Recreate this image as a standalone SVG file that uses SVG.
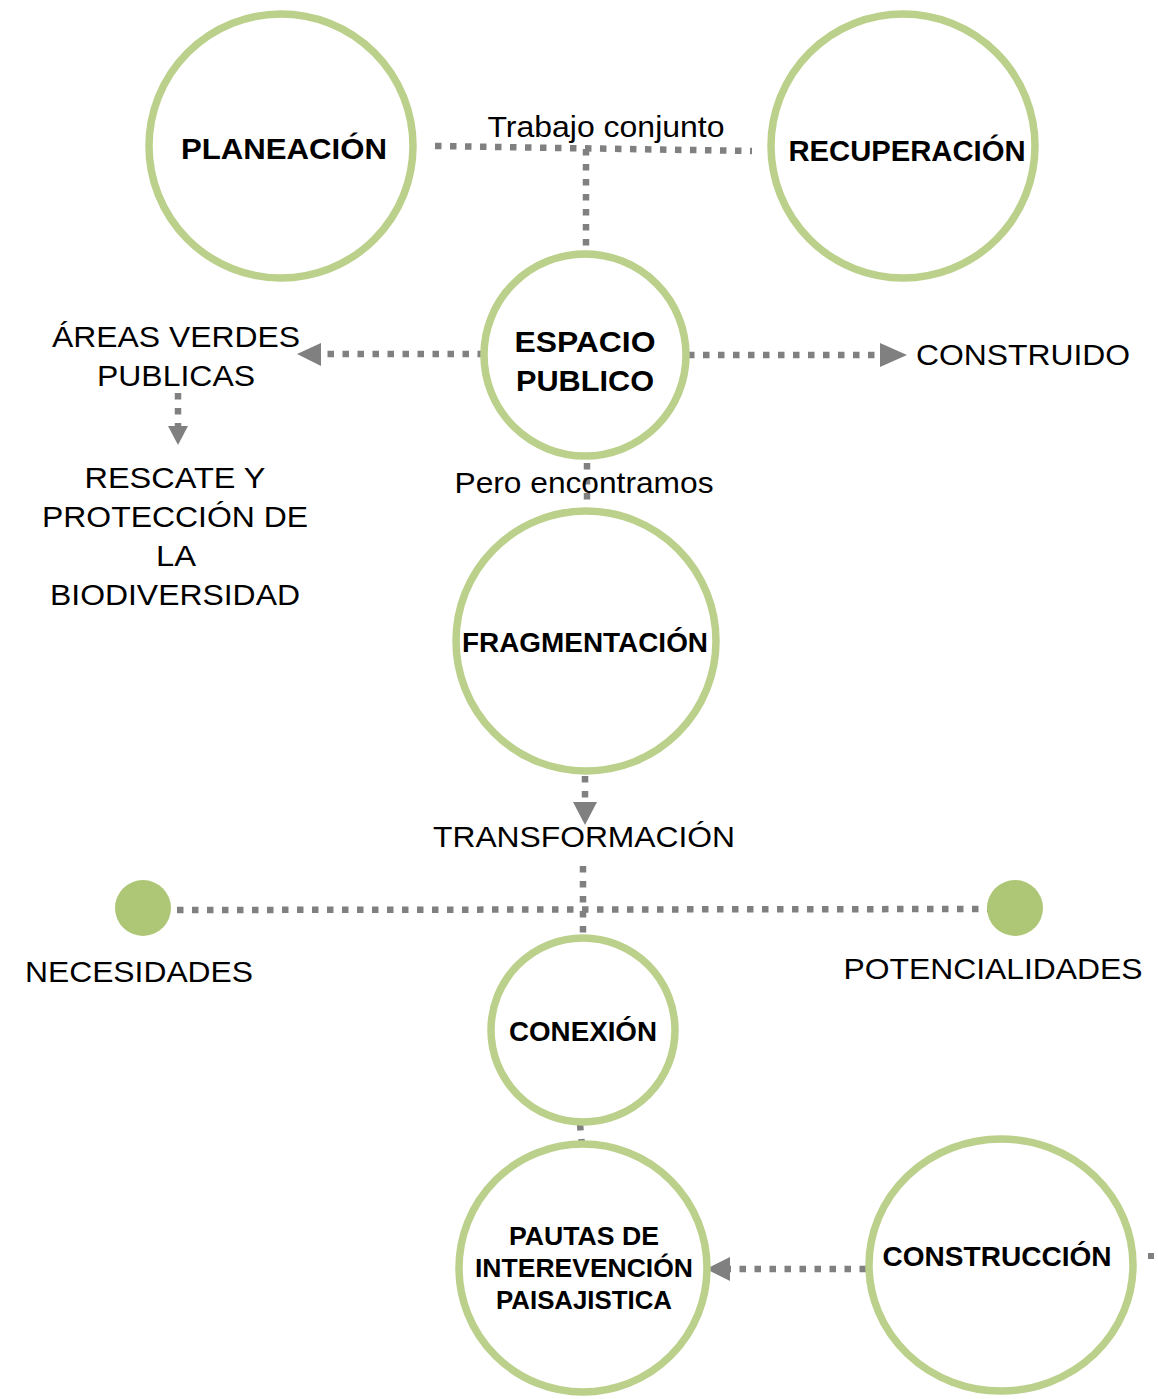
<svg xmlns="http://www.w3.org/2000/svg" width="1158" height="1399" viewBox="0 0 1158 1399">
<style>
.ring{fill:#fff;stroke:#BBD08B;stroke-width:7.5}
.dot{fill:#AEC776}
.dash{fill:none;stroke:#808080;stroke-width:6.5;stroke-dasharray:6.5 8.5}
.head{fill:#808080}
.b{font-family:"Liberation Sans",Arial,sans-serif;font-weight:bold;fill:#000;text-anchor:middle}
.r{font-family:"Liberation Sans",Arial,sans-serif;fill:#000;text-anchor:middle}
</style>
<rect width="1158" height="1399" fill="#fff"/>
<g id="connectors">
<path class="dash" d="M435 146 L752 151"/>
<path class="dash" d="M586 149 L586 254"/>
<path class="dash" d="M484 354 L321 354"/>
<polygon class="head" points="297,354 321,343 321,366"/>
<path class="dash" d="M688 355 L880 355"/>
<polygon class="head" points="907,355 880,343 880,367"/>
<path class="dash" d="M178 393 L178 426"/>
<polygon class="head" points="178,445 168,426 188,426"/>
<path class="dash" d="M587 463 L587 503"/>
<path class="dash" d="M585 776 L585 802"/>
<polygon class="head" points="585,825 573,802 597,802"/>
<path class="dash" d="M583 866 L583 935"/>
<path class="dash" d="M177 910 L988 909"/>
<path class="dash" d="M580 1124 L582 1146"/>
<path class="dash" d="M866 1269 L730 1269"/>
<polygon class="head" points="706,1269 730,1257 730,1281"/>
<rect x="1148" y="1253" width="6" height="6" fill="#808080"/>
</g>
<g id="planeacion"><circle class="ring" cx="281" cy="146" r="132"/><text class="b" x="284" y="159" font-size="30" textLength="206" lengthAdjust="spacingAndGlyphs">PLANEACIÓN</text></g>
<g id="recuperacion"><circle class="ring" cx="903" cy="146" r="132"/><text class="b" x="907" y="161" font-size="29" textLength="237" lengthAdjust="spacingAndGlyphs">RECUPERACIÓN</text></g>
<g id="trabajo"><text class="r" x="606" y="137" font-size="30" textLength="237" lengthAdjust="spacingAndGlyphs">Trabajo conjunto</text></g>
<g id="espacio"><circle class="ring" cx="585" cy="355" r="101"/><text class="b" x="585" y="352" font-size="30" textLength="141" lengthAdjust="spacingAndGlyphs">ESPACIO</text><text class="b" x="585" y="391" font-size="30" textLength="138" lengthAdjust="spacingAndGlyphs">PUBLICO</text></g>
<g id="areas"><text class="r" x="176" y="347" font-size="30" textLength="248" lengthAdjust="spacingAndGlyphs">ÁREAS VERDES</text><text class="r" x="176" y="386" font-size="30" textLength="158" lengthAdjust="spacingAndGlyphs">PUBLICAS</text></g>
<g id="construido"><text class="r" x="1023" y="365" font-size="30" textLength="214" lengthAdjust="spacingAndGlyphs">CONSTRUIDO</text></g>
<g id="rescate"><text class="r" x="175" y="488" font-size="30" textLength="181" lengthAdjust="spacingAndGlyphs">RESCATE Y</text><text class="r" x="175" y="527" font-size="30" textLength="266" lengthAdjust="spacingAndGlyphs">PROTECCIÓN DE</text><text class="r" x="176" y="566" font-size="30" textLength="40" lengthAdjust="spacingAndGlyphs">LA</text><text class="r" x="175" y="605" font-size="30" textLength="250" lengthAdjust="spacingAndGlyphs">BIODIVERSIDAD</text></g>
<g id="pero"><text class="r" x="584" y="493" font-size="30" textLength="259" lengthAdjust="spacingAndGlyphs">Pero encontramos</text></g>
<g id="fragmentacion"><circle class="ring" cx="586" cy="641" r="130"/><text class="b" x="585" y="652" font-size="27" textLength="246" lengthAdjust="spacingAndGlyphs">FRAGMENTACIÓN</text></g>
<g id="transformacion"><text class="r" x="584" y="847" font-size="30" textLength="302" lengthAdjust="spacingAndGlyphs">TRANSFORMACIÓN</text></g>
<g id="necesidades"><circle class="dot" cx="143" cy="908" r="28"/><text class="r" x="139" y="982" font-size="30" textLength="228" lengthAdjust="spacingAndGlyphs">NECESIDADES</text></g>
<g id="potencialidades"><circle class="dot" cx="1015" cy="908" r="28"/><text class="r" x="993" y="979" font-size="30" textLength="299" lengthAdjust="spacingAndGlyphs">POTENCIALIDADES</text></g>
<g id="conexion"><circle class="ring" cx="583" cy="1030" r="92"/><text class="b" x="583" y="1041" font-size="27" textLength="148" lengthAdjust="spacingAndGlyphs">CONEXIÓN</text></g>
<g id="pautas"><circle class="ring" cx="583" cy="1268" r="124"/><text class="b" x="584" y="1245" font-size="25" textLength="150" lengthAdjust="spacingAndGlyphs">PAUTAS DE</text><text class="b" x="584" y="1277" font-size="25" textLength="218" lengthAdjust="spacingAndGlyphs">INTEREVENCIÓN</text><text class="b" x="584" y="1309" font-size="25" textLength="176" lengthAdjust="spacingAndGlyphs">PAISAJISTICA</text></g>
<g id="construccion"><ellipse class="ring" cx="1001" cy="1265" rx="132" ry="126"/><text class="b" x="997" y="1266" font-size="28" textLength="229" lengthAdjust="spacingAndGlyphs">CONSTRUCCIÓN</text></g>
</svg>
